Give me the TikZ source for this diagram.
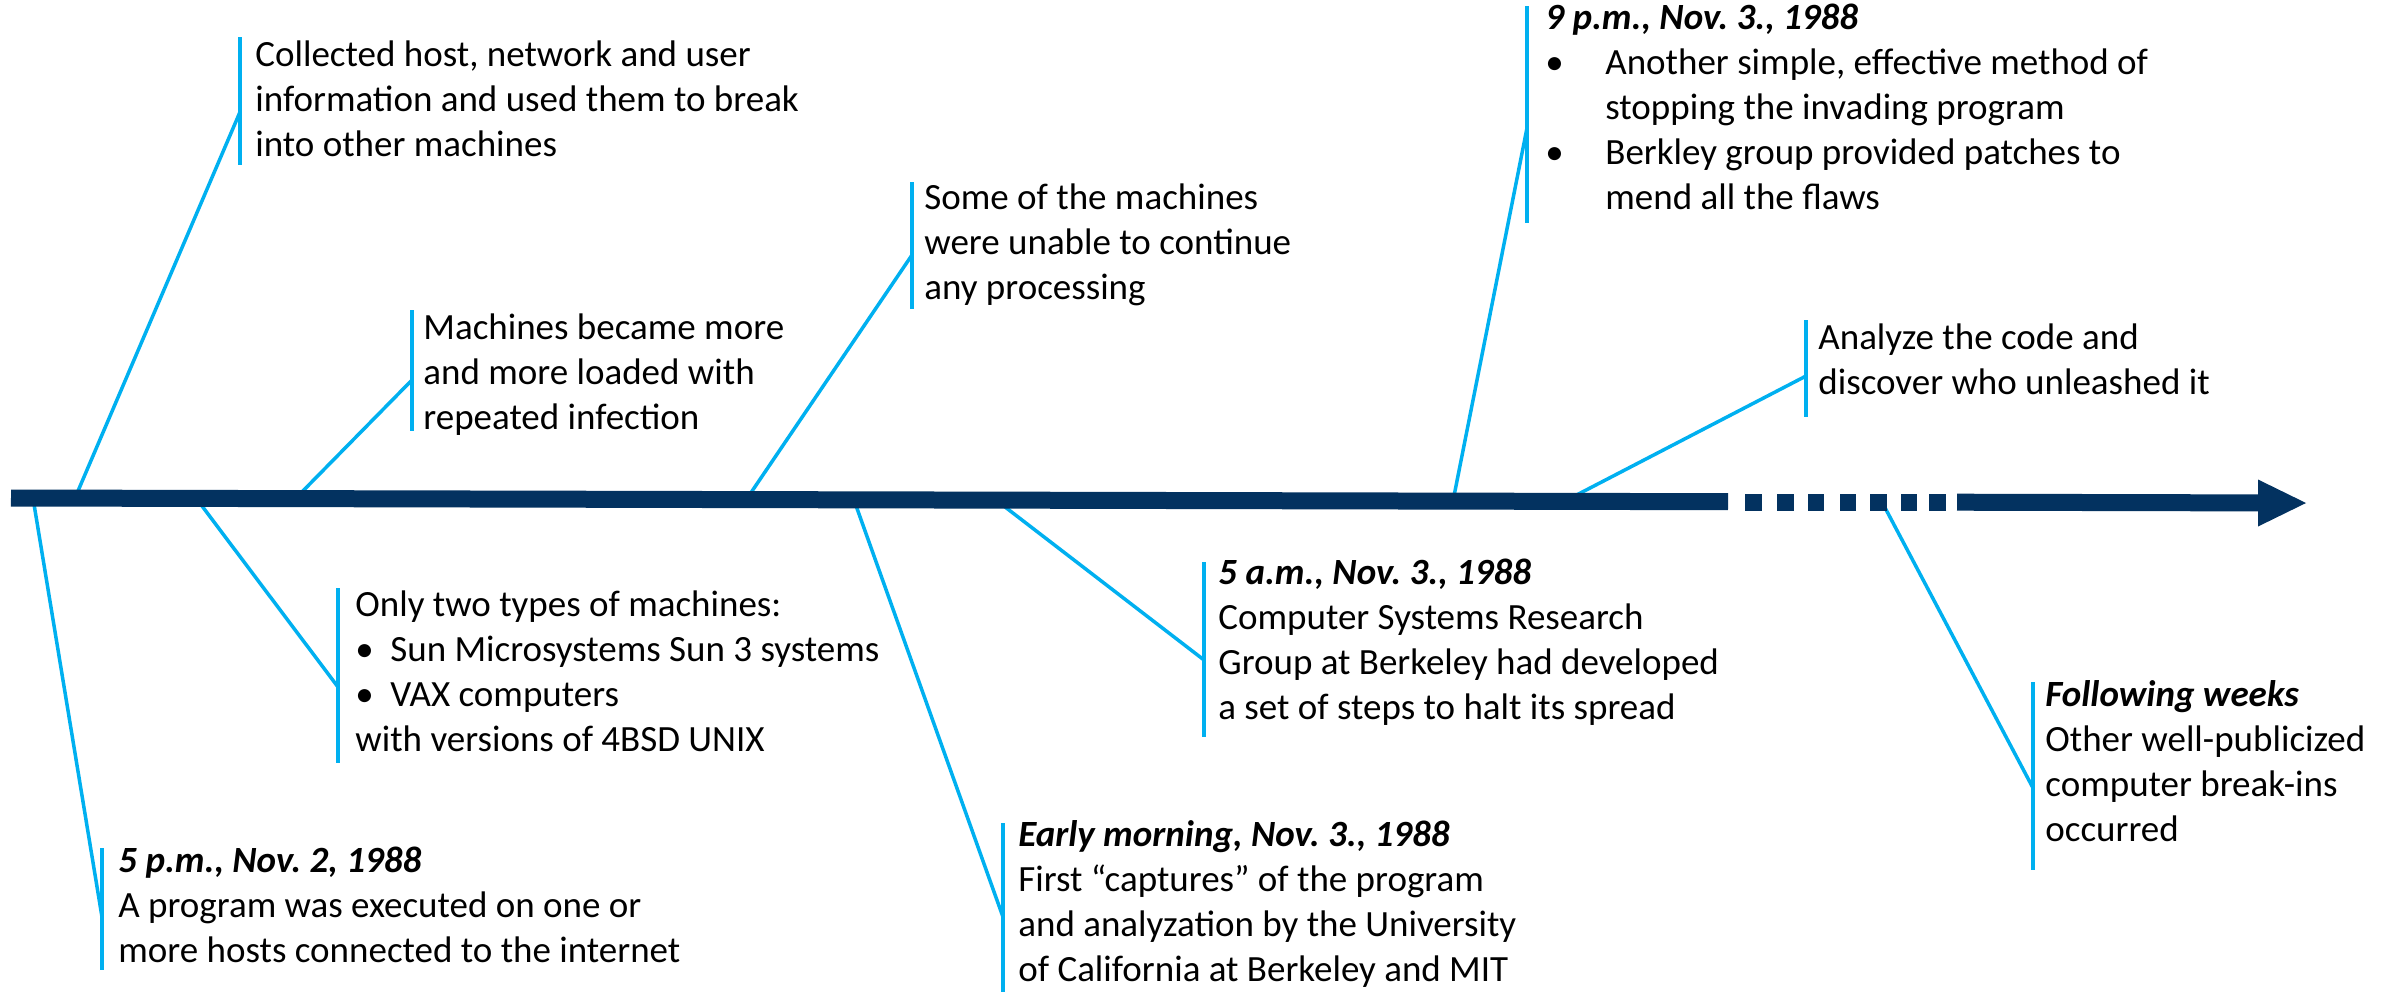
\documentclass[tikz,border=0pt]{standalone}
\usepackage{fontspec}
\setmainfont{Carlito}
\definecolor{navy}{RGB}{3,50,96}
\definecolor{lblue}{RGB}{0,176,240}
\frenchspacing
\begin{document}
\begin{tikzpicture}[x=0.5pt,y=-0.5pt,
  conn/.style={draw=lblue, line width=1.75pt},
  bar/.style={draw=lblue, line width=1.6pt},
  axisline/.style={draw=navy, line width=8.5pt},
  txt/.style={anchor=north west, yshift=15.75pt, align=left, inner sep=0pt,
    font=\fontsize{18.5}{22.5}\selectfont, execute at begin node=\strut}]
\useasboundingbox (0,0) rectangle (2395,992);
\fill[white] (0,0) rectangle (2395,992);
\newcommand\hdr[1]{\textbf{\textit{#1}}}
\newcommand\bul[1]{\makebox[#1][l]{•}}

% axis anchor points
\coordinate (a1) at (75,498);
\coordinate (a2) at (295,499);
\coordinate (a3) at (746,500);
\coordinate (a4) at (1453,501);
\coordinate (a5) at (1565,501);
\coordinate (a6) at (33,498);
\coordinate (a7) at (196,498);
\coordinate (a8) at (854,500);
\coordinate (a9) at (996,500);
\coordinate (a10) at (1882,502);
% bar mid points
\coordinate (m1) at (240,112);
\coordinate (m2) at (412,380);
\coordinate (m3) at (912,255);
\coordinate (m4) at (1527,128);
\coordinate (m5) at (1806,376);
\coordinate (m6) at (102,917);
\coordinate (m7) at (338,687);
\coordinate (m8) at (1003,917);
\coordinate (m9) at (1204,660);
\coordinate (m10) at (2033,788);

\foreach \i in {1,...,10} {\draw[conn] (a\i) -- (m\i);}

% bars
\draw[bar] (240,37) -- (240,165);
\draw[bar] (412,310) -- (412,431);
\draw[bar] (912,182) -- (912,309);
\draw[bar] (1527,6) -- (1527,223);
\draw[bar] (1806,320) -- (1806,417);
\draw[bar] (102,848) -- (102,970);
\draw[bar] (338,588) -- (338,763);
\draw[bar] (1003,823) -- (1003,992);
\draw[bar] (1204,562) -- (1204,737);
\draw[bar] (2033,682) -- (2033,870);

% axis
\coordinate (s0) at (11,498);
\coordinate (s1) at (1728,501.7);
\coordinate (s2) at (1957,502.2);
\coordinate (s3) at (2260,502.9);
\draw[axisline] (s0) -- (s1);
\foreach \xa/\xb in {1745/1762,1777/1794,1808/1824,1840/1856,1870/1887,1901/1917,1929/1946}
  {\draw[axisline] (\xa,502) -- (\xb,502);}
\draw[axisline] (s2) -- (s3);
\fill[navy] (2258,479.5) -- (2306,503) -- (2258,526.5) -- cycle;

% texts
\node[txt] (t1) at (255,72) {Collected host, network and user\\information and used them to break\\into other machines};
\node[txt] (t2) at (423,345) {Machines became more\\and more loaded with\\repeated infection};
\node[txt] (t3) at (924,215) {Some of the machines\\were unable to continue\\any processing};
\node[txt] (t4) at (1545,35) {\hdr{9 p.m., Nov. 3., 1988}\\\bul{30pt}Another simple, effective method of\\\hspace*{30pt}stopping the invading program\\\bul{30pt}Berkley group provided patches to\\\hspace*{30pt}mend all the flaws};
\node[txt] (t5) at (1818,355) {Analyze the code and\\discover who unleashed it};
\node[txt] (t6) at (118,878) {\hdr{5 p.m., Nov. 2, 1988}\\A program was executed on one or\\more hosts connected to the internet};
\node[txt] (t7) at (355,622) {Only two types of machines:\\\bul{17.5pt}Sun Microsystems Sun 3 systems\\\bul{17.5pt}VAX computers\\with versions of 4BSD UNIX};
\node[txt] (t8) at (1018,852) {\hdr{Early morning, Nov. 3., 1988}\\First “captures” of the program\\and analyzation by the University\\of California at Berkeley and MIT};
\node[txt] (t9) at (1218,590) {\hdr{5 a.m., Nov. 3., 1988}\\Computer Systems Research\\Group at Berkeley had developed\\a set of steps to halt its spread};
\node[txt] (t10) at (2045,712) {\hdr{Following weeks}\\Other well-publicized\\computer break-ins\\occurred};
\end{tikzpicture}
\end{document}
